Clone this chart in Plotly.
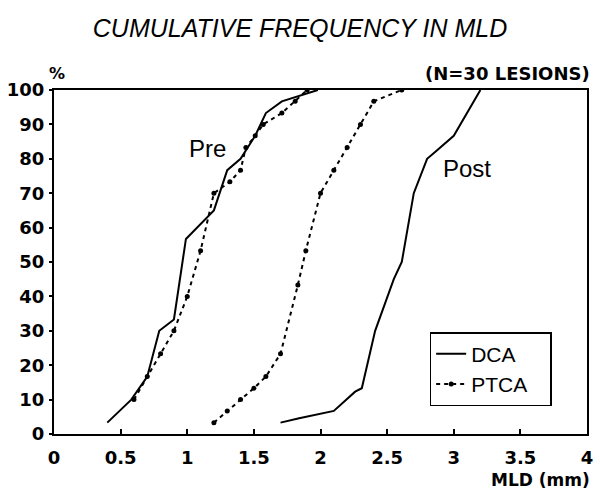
import plotly.graph_objects as go

# Pre-procedure MLD (mm) vs cumulative frequency (%)
dca_pre_x = [0.40, 0.58, 0.70, 0.79, 0.90, 0.99, 1.20, 1.30, 1.40, 1.51, 1.59, 1.71, 1.98]
dca_pre_y = [3.3, 10.0, 16.7, 30.0, 33.3, 56.7, 65.0, 76.7, 80.0, 86.7, 93.3, 96.7, 100.0]

ptca_pre_x = [0.60, 0.70, 0.80, 0.90, 1.00, 1.10, 1.20, 1.32, 1.40, 1.44, 1.51, 1.57, 1.71, 1.81, 1.90]
ptca_pre_y = [10.0, 16.7, 23.3, 30.0, 40.0, 53.3, 70.0, 73.3, 76.7, 83.3, 86.7, 90.0, 93.3, 96.7, 100.0]

# Post-procedure
dca_post_x = [1.70, 1.84, 2.10, 2.26, 2.31, 2.41, 2.55, 2.61, 2.70, 2.80, 2.86, 3.00, 3.20]
dca_post_y = [3.3, 4.6, 6.7, 12.3, 13.3, 30.0, 45.0, 50.0, 70.0, 80.0, 82.0, 86.7, 100.0]

ptca_post_x = [1.20, 1.30, 1.40, 1.50, 1.59, 1.70, 1.83, 1.89, 2.00, 2.10, 2.20, 2.30, 2.40, 2.61]
ptca_post_y = [3.3, 6.7, 10.0, 13.3, 16.7, 23.3, 43.3, 53.3, 70.0, 76.7, 83.3, 90.0, 96.7, 100.0]

x_ticks = [0, 0.5, 1, 1.5, 2, 2.5, 3, 3.5, 4]
x_tick_labels = ["0", "0.5", "1", "1.5", "2", "2.5", "3", "3.5", "4"]
y_ticks = list(range(0, 101, 10))

FONT = "Liberation Sans, Arial, sans-serif"
BOLD = "DejaVu Sans, sans-serif"
PAD = "\u00a0" * 3

fig = go.Figure()
solid = dict(color="black", width=2)
dashed = dict(color="black", width=2, dash="4px,4px")
mk = dict(color="black", size=5)

fig.add_trace(go.Scatter(x=dca_pre_x, y=dca_pre_y, mode="lines", line=solid,
                         name="DCA" + PAD, legendgroup="dca"))
fig.add_trace(go.Scatter(x=dca_post_x, y=dca_post_y, mode="lines", line=solid,
                         name="DCA", legendgroup="dca", showlegend=False))
fig.add_trace(go.Scatter(x=ptca_pre_x, y=ptca_pre_y, mode="lines+markers", line=dashed,
                         marker=mk, name="PTCA" + PAD, legendgroup="ptca"))
fig.add_trace(go.Scatter(x=ptca_post_x, y=ptca_post_y, mode="lines+markers", line=dashed,
                         marker=mk, name="PTCA", legendgroup="ptca", showlegend=False))

tickfont = dict(size=18, family=BOLD, weight="bold")

fig.update_layout(
    width=600, height=490,
    margin=dict(l=51, r=7, t=90, b=56),
    paper_bgcolor="white", plot_bgcolor="white",
    font=dict(family=FONT, color="black"),
    title=dict(text="<i>CUMULATIVE FREQUENCY IN MLD</i>", x=0.5, xanchor="center",
               y=1 - 28 / 490, yanchor="middle", font=dict(size=25, family=FONT)),
    showlegend=True,
    legend=dict(x=(433 - 51) / 542, y=(434 - 406) / 344, xanchor="left", yanchor="bottom",
                bordercolor="black", borderwidth=1.5, bgcolor="white",
                font=dict(size=21, family=FONT), itemwidth=30, tracegroupgap=0),
    xaxis=dict(range=[0, 4], tickvals=x_ticks, ticktext=x_tick_labels,
               ticks="inside", ticklen=5, tickwidth=1.5, tickcolor="black",
               ticklabelstandoff=6,
               showline=True, linecolor="black", linewidth=2, mirror=True,
               showgrid=False, zeroline=False, tickfont=tickfont),
    yaxis=dict(range=[0, 100], tickvals=y_ticks,
               ticks="outside", ticklen=3, tickwidth=1.5, tickcolor="black",
               ticklabelstandoff=1,
               showline=True, linecolor="black", linewidth=2, mirror=True,
               showgrid=False, zeroline=False, tickfont=tickfont),
    annotations=[
        dict(text="Pre", x=1.15, y=83, xref="x", yref="y", showarrow=False,
             font=dict(size=24, family=FONT)),
        dict(text="Post", x=3.10, y=77.3, xref="x", yref="y", showarrow=False,
             font=dict(size=24, family=FONT)),
        dict(text="<b>%</b>", x=(54 - 51) / 542, y=(434 - 74) / 344, xref="paper", yref="paper",
             xanchor="center", yanchor="middle", showarrow=False,
             font=dict(size=16, family=BOLD)),
        dict(text="<b>(N=30 LESIONS)</b>", x=(598 - 51) / 542, y=(434 - 74) / 344,
             xref="paper", yref="paper", xanchor="right", yanchor="middle",
             showarrow=False, font=dict(size=18, family=BOLD)),
        dict(text="<b>MLD (mm)</b>", x=(598 - 51) / 542, y=(434 - 480) / 344,
             xref="paper", yref="paper", xanchor="right", yanchor="middle",
             showarrow=False, font=dict(size=17, family=BOLD)),
    ],
)

fig.write_html("out.html")
